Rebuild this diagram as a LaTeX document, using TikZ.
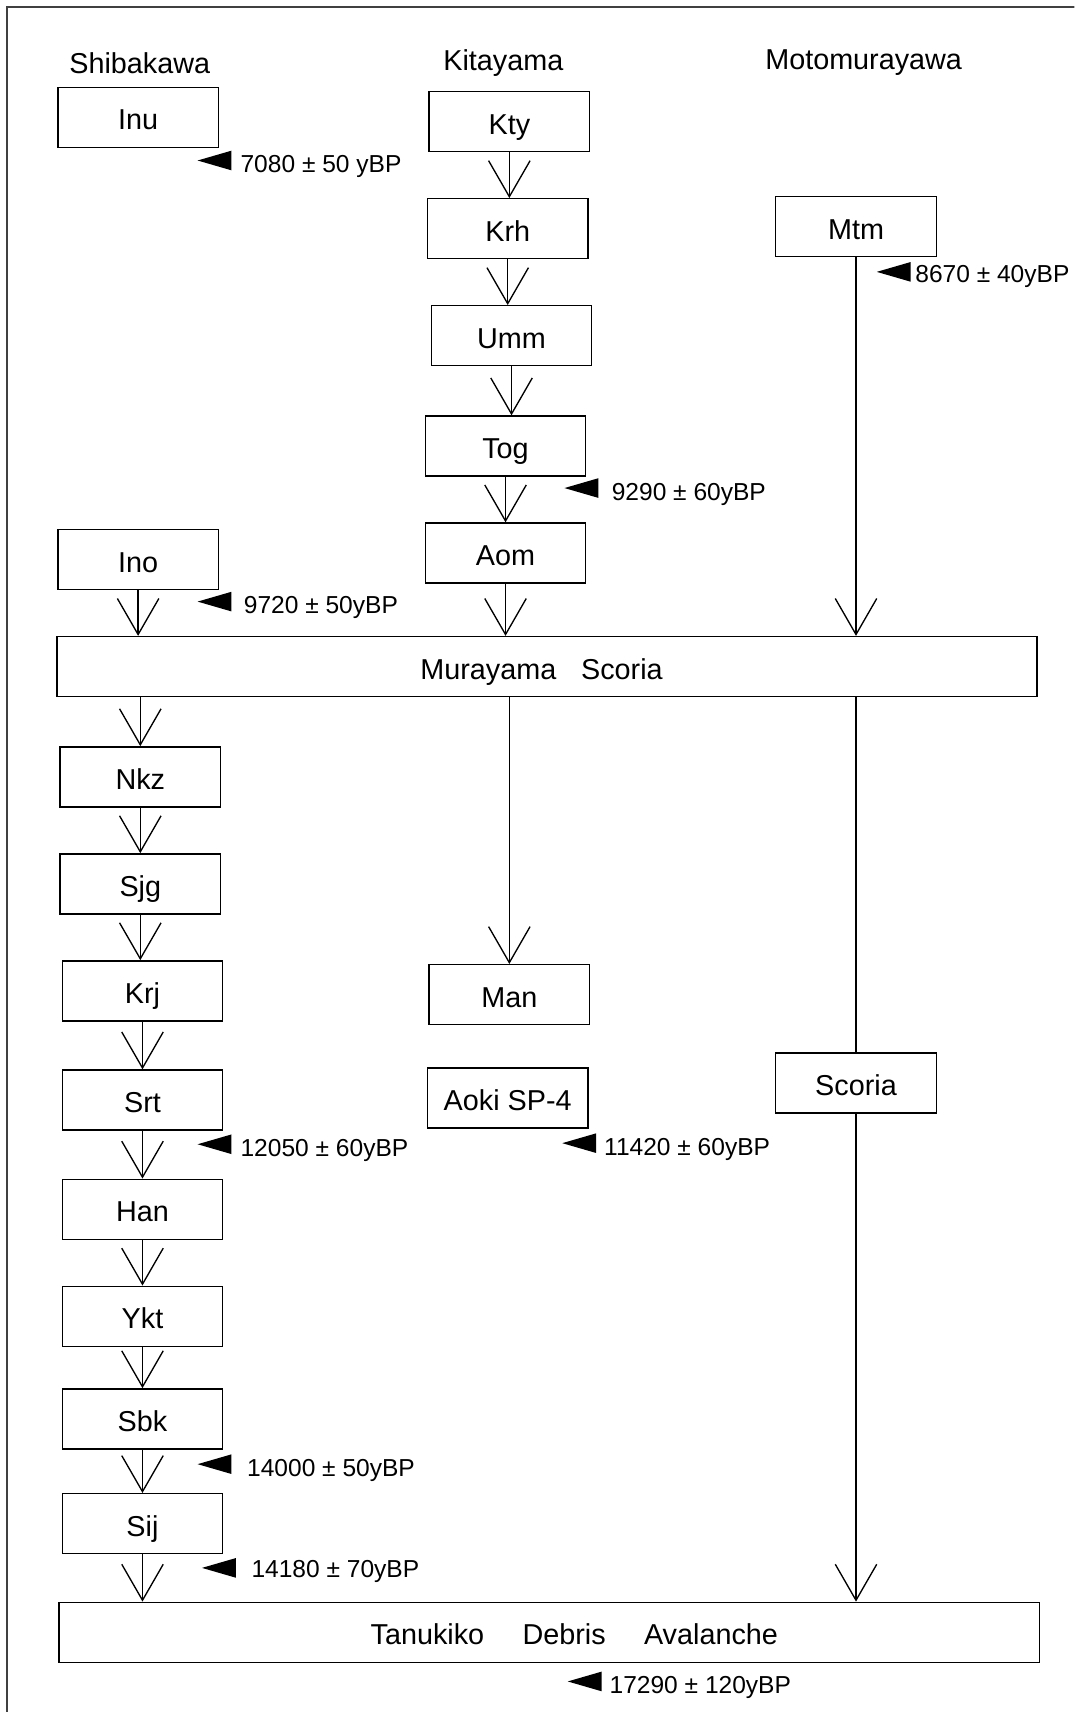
\documentclass[tikz,border=0pt]{standalone}
\usepackage{fontspec}
\setmainfont{Liberation Sans}
\usetikzlibrary{arrows.meta}

\tikzset{
  layer/.style={draw, line width=0.7pt, minimum width=2.94cm, minimum height=1.1cm,
    inner sep=0pt, text height=13pt, text depth=0pt, font=\fontsize{15}{18}\selectfont},
  widelayer/.style={layer, minimum width=17.96cm},
  site/.style={inner sep=0pt, text height=10.7pt, text depth=0pt, font=\fontsize{15}{18}\selectfont},
  age/.style={anchor=west, inner sep=0pt, text height=9.2pt, text depth=0pt,
    font=\fontsize{12.8}{15}\selectfont},
  flow/.style={line width=0.7pt, -{Straight Barb[length=0.66cm, width=0.76cm]}},
  link/.style={line width=0.7pt}
}

\begin{document}
\begin{tikzpicture}[x=0.02cm, y=-0.02cm]
  \useasboundingbox (0,0) rectangle (984,1568);
  \clip (0,0) rectangle (984,1568);
  \draw[line width=1pt, black!75] (6,6) rectangle (1000,1600);

  % column headings
  \node[site] (shiba) at (128,58) {Shibakawa};
  \node[site] (kita) at (461,55) {Kitayama};
  \node[site] (moto) at (791,54) {Motomurayawa};

  % Shibakawa
  \node[layer] (inu) at (126.5,107.5) {Inu};
  \node[layer] (ino) at (126.5,512.5) {Ino};
  % Kitayama
  \node[layer] (kty) at (466.5,111.5) {Kty};
  \node[layer] (krh) at (465,209.5) {Krh};
  \node[layer] (umm) at (468.5,307.5) {Umm};
  \node[layer] (tog) at (463,408.5) {Tog};
  \node[layer] (aom) at (463,506.5) {Aom};
  % Motomurayawa
  \node[layer] (mtm) at (784,207.5) {Mtm};

  \node[widelayer] (mur) at (501,610.5) {Murayama\hspace{13pt}Scoria\hspace*{0.2cm}};

  \node[layer] (nkz) at (128.5,711.5) {Nkz};
  \node[layer] (sjg) at (128.5,809.5) {Sjg};
  \node[layer] (krj) at (130.5,907.5) {Krj};
  \node[layer] (srt) at (130.5,1007.5) {Srt};
  \node[layer] (han) at (130.5,1107.5) {Han};
  \node[layer] (ykt) at (130.5,1205.5) {Ykt};
  \node[layer] (sbk) at (130.5,1299.5) {Sbk};
  \node[layer] (sij) at (130.5,1395.5) {Sij};
  \node[layer] (man) at (466.5,911) {Man};
  \node[layer] (aoki) at (465,1005.5) {Aoki SP-4};
  \node[layer] (sco) at (784,992) {Scoria};

  \node[widelayer] (tan) at (503,1495)
    {\hspace*{0.92cm}Tanukiko\hspace{20pt}Debris\hspace{20pt}Avalanche};

  % arrows
  \foreach \a/\b in {kty/krh,krh/umm,umm/tog,tog/aom,aom/mur,ino/mur,mtm/mur,
                     nkz/sjg,sjg/krj,krj/srt,srt/han,han/ykt,ykt/sbk,sbk/sij,sij/tan,sco/tan}
    \draw[flow] (\a.south) -- (\a.south |- \b.north);
  \foreach \b in {nkz,man}
    \draw[flow] (\b.north |- mur.south) -- (\b.north);
  \draw[link] (sco.north |- mur.south) -- (sco.north);

  % ages
  \foreach \tx/\ty/\ax/\ay/\txt [count=\i] in {
      181/147/220/150/7080 ± 50 yBP,
      803/249/838/251/8670 ± 40yBP,
      517/447/560/450/9290 ± 60yBP,
      181/551/223/554/9720 ± 50yBP,
      181/1048/220/1051/12050 ± 60yBP,
      515/1047/553/1050/11420 ± 60yBP,
      181/1341/226/1344/14000 ± 50yBP,
      185/1436/230/1437/14180 ± 70yBP,
      520/1540/558/1543/17290 ± 120yBP} {
    \fill (\tx,\ty) -- (\tx+31,\ty-9) -- (\tx+31,\ty+9) -- cycle;
    \node[age] (age\i) at (\ax,\ay) {\txt};
  }
\end{tikzpicture}
\end{document}
